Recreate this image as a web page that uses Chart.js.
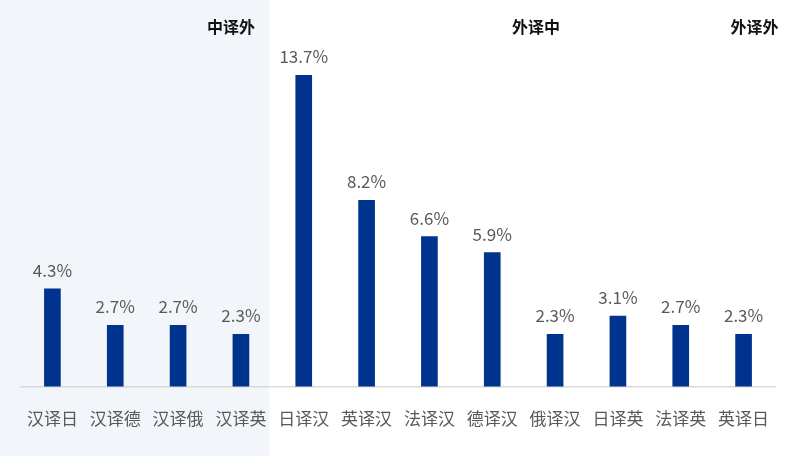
<!DOCTYPE html>
<html>
<head>
<meta charset="utf-8">
<script src="https://cdn.jsdelivr.net/npm/chart.js@4/dist/chart.umd.min.js"></script>
<style>
html,body{margin:0;padding:0;background:#fff;}
#wrap{width:800px;height:456px;position:relative;}
</style>
</head>
<body>
<div id="wrap"><canvas id="c" width="800" height="456"></canvas></div>
<script>
const categories = ['汉译日','汉译德','汉译俄','汉译英','日译汉','英译汉','法译汉','德译汉','俄译汉','日译英','法译英','英译日'];
const values = [4.3, 2.7, 2.7, 2.3, 13.7, 8.2, 6.6, 5.9, 2.3, 3.1, 2.7, 2.3];
const groupNames = ['中译外','外译中','外译外'];
const groupAnchorIndex = [3, 8, 11];
const shadedCount = 4;

const FONT = '"Noto Sans CJK SC", "Noto Sans", sans-serif';

const bgPlugin = {
  id: 'bgShade',
  beforeDraw(chart) {
    const {ctx, scales:{x}} = chart;
    const edge = (x.getPixelForValue(shadedCount - 1) + x.getPixelForValue(shadedCount)) / 2 - 3;
    ctx.save();
    ctx.fillStyle = '#f2f5fa';
    ctx.fillRect(0, 0, edge, chart.height);
    ctx.restore();
  }
};

const labelPlugin = {
  id: 'valLabels',
  afterDatasetsDraw(chart) {
    const {ctx, scales:{x}} = chart;
    const meta = chart.getDatasetMeta(0);
    ctx.save();
    ctx.font = '17px ' + FONT;
    ctx.fillStyle = '#595959';
    ctx.textAlign = 'center';
    ctx.textBaseline = 'alphabetic';
    meta.data.forEach((bar, i) => {
      ctx.fillText(values[i].toFixed(1) + '%', bar.x, bar.y - 12);
    });
    // group labels
    ctx.font = 'bold 16px ' + FONT;
    ctx.fillStyle = '#111';
    ctx.textAlign = 'right';
    ctx.textBaseline = 'middle';
    const offsets = [14, 5, 35];
    groupNames.forEach((g, k) => {
      ctx.fillText(g, x.getPixelForValue(groupAnchorIndex[k]) + offsets[k], 27);
    });
    ctx.restore();
  }
};

new Chart(document.getElementById('c'), {
  type: 'bar',
  data: {
    labels: categories,
    datasets: [{
      data: values,
      backgroundColor: '#00338D',
      barThickness: 16
    }]
  },
  options: {
    responsive: false,
    animation: false,
    layout: { padding: { left: 21, right: 25, top: 23, bottom: 5 } },
    plugins: { legend: { display: false }, tooltip: { enabled: false } },
    scales: {
      x: {
        grid: { display: false, drawTicks: false },
        border: { display: true, color: '#d9d9d9', width: 1.5 },
        ticks: { color: '#595959', font: { size: 17, family: FONT }, padding: 22, maxRotation: 0, autoSkip: false }
      },
      y: {
        display: false,
        min: 0,
        max: 16
      }
    }
  },
  plugins: [bgPlugin, labelPlugin]
});
</script>
</body>
</html>
